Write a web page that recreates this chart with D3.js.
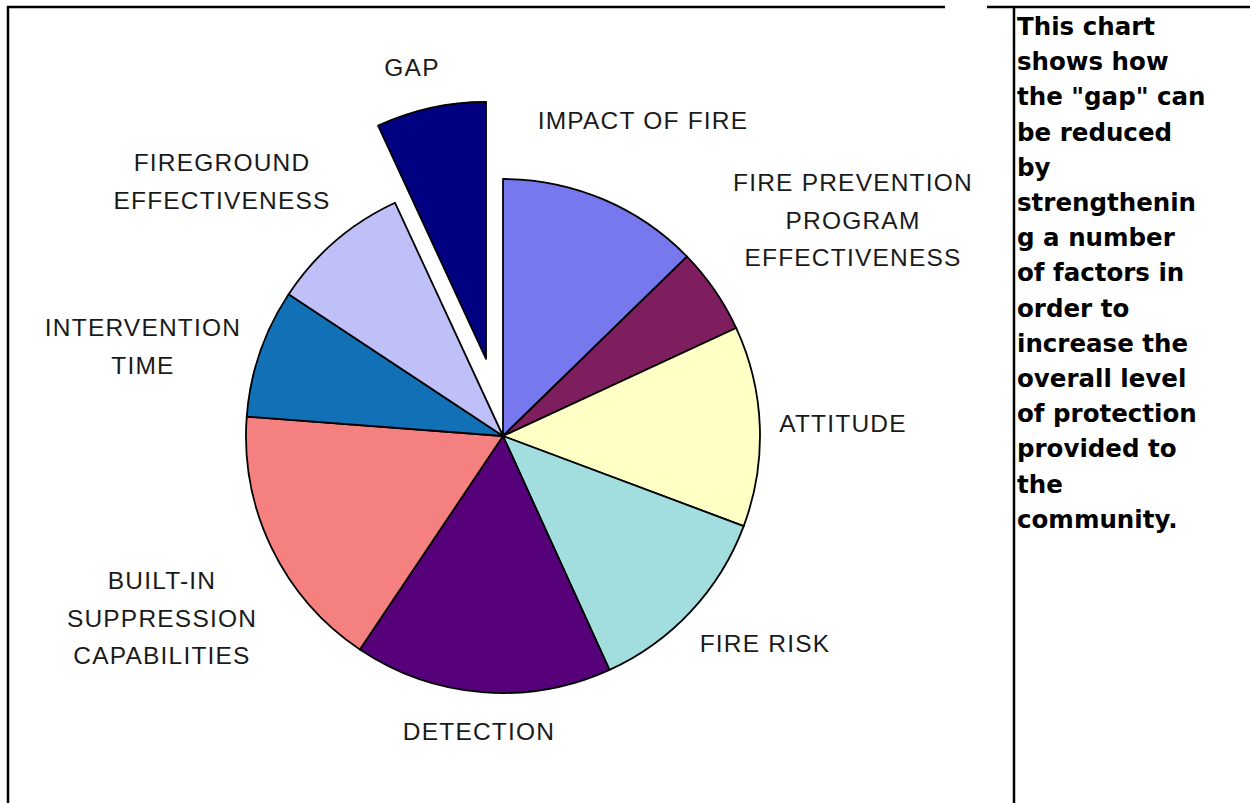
<!DOCTYPE html>
<html>
<head>
<meta charset="utf-8">
<script src="https://cdn.jsdelivr.net/npm/d3@7/dist/d3.min.js"></script>
<style>
  html, body { margin: 0; padding: 0; background: #fff; }
  svg { display: block; }
</style>
</head>
<body>
<svg id="chart" width="1250" height="803"></svg>
<script>
// Share of overall protection contributed by each factor (percent)
const categories = [
  "IMPACT OF FIRE",
  "FIRE PREVENTION PROGRAM EFFECTIVENESS",
  "ATTITUDE",
  "FIRE RISK",
  "DETECTION",
  "BUILT-IN SUPPRESSION CAPABILITIES",
  "INTERVENTION TIME",
  "FIREGROUND EFFECTIVENESS",
  "GAP"
];
const values = [12.7, 5.4, 12.6, 12.5, 16.2, 16.8, 8.1, 8.8, 6.9];
const explodedCategory = "GAP";

// Label lines as printed beside each slice
const labelLines = [
  ["IMPACT OF FIRE"],
  ["FIRE PREVENTION", "PROGRAM", "EFFECTIVENESS"],
  ["ATTITUDE"],
  ["FIRE RISK"],
  ["DETECTION"],
  ["BUILT-IN", "SUPPRESSION", "CAPABILITIES"],
  ["INTERVENTION", "TIME"],
  ["FIREGROUND", "EFFECTIVENESS"],
  ["GAP"]
];

// Caption in the side column
const captionLines = [
  "This chart", "shows how", "the \"gap\" can", "be reduced", "by",
  "strengthenin", "g a number", "of factors in", "order to",
  "increase the", "overall level", "of protection", "provided to",
  "the", "community."
];

// ---- layout & styling ----
const colors = ["#7878ee", "#7e1e5e", "#ffffc6", "#a2dede", "#56007a",
                "#f58080", "#1270b6", "#c0c0f8", "#000080"];
const cx = 503, cy = 436, radius = 257, explodeOffset = 79;
// label anchor (centre x, first baseline y) per slice
const labelAnchor = [
  [643, 129], [853, 191], [843, 432], [765, 652], [479, 740],
  [162, 589], [143, 336], [222, 171], [412, 76]
];
const labelLineGap = 37.5;

const svg = d3.select("#chart");

// table frame: outer left/top rules and the column divider
const frame = svg.append("g").attr("stroke", "#000").attr("stroke-width", 2.5);
frame.append("line").attr("x1", 8).attr("x2", 8).attr("y1", 6).attr("y2", 803);
frame.append("line").attr("x1", 7).attr("x2", 945).attr("y1", 7).attr("y2", 7);
frame.append("line").attr("x1", 987).attr("x2", 1250).attr("y1", 7).attr("y2", 7);
frame.append("line").attr("x1", 1014).attr("x2", 1014).attr("y1", 7).attr("y2", 803);

// pie
const pie = d3.pie().sort(null).value(d => d.value).startAngle(0).endAngle(2 * Math.PI);
const arc = d3.arc().innerRadius(0).outerRadius(radius);
const data = categories.map((c, i) => ({ name: c, value: values[i], color: colors[i] }));
const arcs = pie(data);

const g = svg.append("g").attr("transform", `translate(${cx},${cy})`);
g.selectAll("path.slice")
  .data(arcs)
  .join("path")
  .attr("class", "slice")
  .attr("d", arc)
  .attr("fill", d => d.data.color)
  .attr("stroke", "#000")
  .attr("stroke-width", 1.8)
  .attr("stroke-linejoin", "round")
  .attr("transform", d => {
    if (d.data.name !== explodedCategory) return null;
    const mid = (d.startAngle + d.endAngle) / 2;
    return `translate(${Math.sin(mid) * explodeOffset},${-Math.cos(mid) * explodeOffset})`;
  });

// slice labels
const labels = svg.append("g")
  .attr("font-family", "'Liberation Sans', Arial, sans-serif")
  .attr("font-size", 24.5)
  .attr("letter-spacing", 1.2)
  .attr("fill", "#1a1a1a")
  .attr("text-anchor", "middle");
labelLines.forEach((lines, i) => {
  const [lx, ly] = labelAnchor[i];
  const t = labels.append("text").attr("x", lx).attr("y", ly);
  lines.forEach((ln, j) => {
    t.append("tspan").attr("x", lx).attr("y", ly + j * labelLineGap).text(ln);
  });
});

// side caption
const cap = svg.append("text")
  .attr("font-family", "'DejaVu Sans', Verdana, sans-serif")
  .attr("font-weight", "bold")
  .attr("font-size", 24.5)
  .attr("fill", "#000");
captionLines.forEach((ln, i) => {
  cap.append("tspan").attr("x", 1017).attr("y", 35 + i * 35.2).text(ln);
});
</script>
</body>
</html>
